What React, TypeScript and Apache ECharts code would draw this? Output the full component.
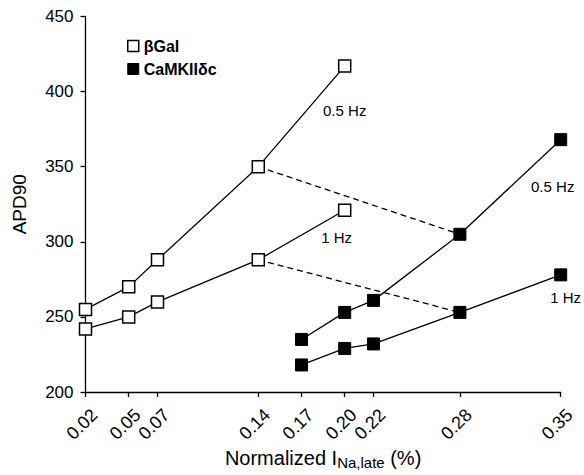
import React, { useEffect, useRef } from "react";
import * as echarts from "echarts";

const xTicks = [0.02, 0.05, 0.07, 0.14, 0.17, 0.2, 0.22, 0.28, 0.35];

const bgalX = [0.02, 0.05, 0.07, 0.14, 0.2];
const bgal05 = [255, 270, 288, 350, 417];
const bgal1 = [242, 250, 260, 288, 321];

const camkX = [0.17, 0.2, 0.22, 0.28, 0.35];
const camk05 = [235, 253, 261, 305, 368];
const camk1 = [218, 229, 232, 253, 278];

// dashed connectors: beta-Gal 0.14 -> CaMKII 0.28
const dash05 = [
  [0.14, 350],
  [0.28, 305],
];
const dash1 = [
  [0.14, 288],
  [0.28, 253],
];

const FONT = "Liberation Sans, Arial, Helvetica, sans-serif";

function pts(xs: number[], ys: number[], label: string, offset: number[]) {
  return xs.map((x, i) => {
    if (i === xs.length - 1) {
      return {
        value: [x, ys[i]],
        label: {
          show: true,
          formatter: label,
          position: "inside",
          offset,
          color: "#000",
          fontSize: 15,
          fontFamily: FONT,
        },
      };
    }
    return { value: [x, ys[i]] };
  });
}

export default function App() {
  const ref = useRef<HTMLDivElement>(null);
  useEffect(() => {
    if (!ref.current) return;
    const chart = echarts.init(ref.current, null, { renderer: "svg" });
    const openStyle = { color: "#fff", borderColor: "#000", borderWidth: 1.5 };
    const fillStyle = { color: "#000", borderColor: "#000", borderWidth: 1 };
    const lineStyle = { color: "#000", width: 1.3 };
    chart.setOption({
      animation: false,
      backgroundColor: "#fff",
      textStyle: { fontFamily: FONT },
      grid: { left: 85.5, right: 23.3, top: 16.5, bottom: 83, outerBoundsMode: "none", containLabel: false },
      legend: {
        orient: "vertical",
        left: 122,
        top: 33,
        itemWidth: 11,
        itemHeight: 11,
        itemGap: 7,
        icon: "rect",
        textStyle: { fontSize: 16, fontWeight: "bold", color: "#000", fontFamily: FONT },
        data: [
          { name: "βGal", itemStyle: openStyle },
          { name: "CaMKIIδc", itemStyle: fillStyle },
        ],
        selectedMode: false,
      },
      xAxis: {
        type: "value",
        min: 0.02,
        max: 0.35,
        interval: 0.01,
        name: "{a|Normalized I}{b|Na,late}{a| (%)}",
        nameLocation: "middle",
        nameGap: 53,
        nameMoveOverlap: false,
        nameTextStyle: {
          rich: {
            a: { fontSize: 20, color: "#000", fontFamily: FONT },
            b: { fontSize: 15, color: "#000", fontFamily: FONT, padding: [10, 0, 0, 0] },
          },
        },
        splitLine: { show: false },
        axisLine: { show: true, lineStyle: { color: "#000", width: 1.3 } },
        axisTick: { show: true, customValues: xTicks, length: 5, lineStyle: { color: "#000", width: 1.3 } },
        axisLabel: {
          rotate: 45,
          margin: 11,
          align: "right",
          verticalAlign: "top",
          lineHeight: 25,
          fontSize: 18,
          color: "#000",
          fontFamily: FONT,
          hideOverlap: false,
          formatter: (v: number) =>
            xTicks.some((t) => Math.abs(t - v) < 1e-6) ? v.toFixed(2) : "",
        },
      },
      yAxis: {
        type: "value",
        min: 200,
        max: 450,
        interval: 50,
        name: "APD90",
        nameLocation: "middle",
        nameRotate: 90,
        nameGap: 57,
        nameMoveOverlap: false,
        nameTextStyle: { fontSize: 19, color: "#000", fontFamily: FONT },
        splitLine: { show: false },
        axisLine: { show: true, lineStyle: { color: "#000", width: 1.3 } },
        axisTick: { show: true, length: 5, lineStyle: { color: "#000", width: 1.3 } },
        axisLabel: { fontSize: 17, color: "#000", margin: 12, fontFamily: FONT },
      },
      series: [
        {
          name: "dash05",
          type: "line",
          data: dash05,
          symbol: "none",
          lineStyle: { color: "#000", width: 1.3, type: [6, 4] },
          z: 1,
        },
        {
          name: "dash1",
          type: "line",
          data: dash1,
          symbol: "none",
          lineStyle: { color: "#000", width: 1.3, type: [6, 4] },
          z: 1,
        },
        {
          name: "βGal",
          type: "line",
          data: pts(bgalX, bgal05, "0.5 Hz", [0, 44]),
          symbol: "rect",
          symbolSize: 12,
          itemStyle: openStyle,
          lineStyle,
          z: 3,
        },
        {
          name: "βGal",
          type: "line",
          data: pts(bgalX, bgal1, "1 Hz", [-8, 27]),
          symbol: "rect",
          symbolSize: 12,
          itemStyle: openStyle,
          lineStyle,
          z: 3,
        },
        {
          name: "CaMKIIδc",
          type: "line",
          data: pts(camkX, camk05, "0.5 Hz", [-8, 47]),
          symbol: "rect",
          symbolSize: 12,
          itemStyle: fillStyle,
          lineStyle,
          z: 3,
        },
        {
          name: "CaMKIIδc",
          type: "line",
          data: pts(camkX, camk1, "1 Hz", [5, 23]),
          symbol: "rect",
          symbolSize: 12,
          itemStyle: fillStyle,
          lineStyle,
          z: 3,
        },
      ],
    });
    return () => chart.dispose();
  }, []);
  return (
    <div
      ref={ref}
      style={{ position: "fixed", left: 0, top: 0, width: 584, height: 475 }}
    />
  );
}
